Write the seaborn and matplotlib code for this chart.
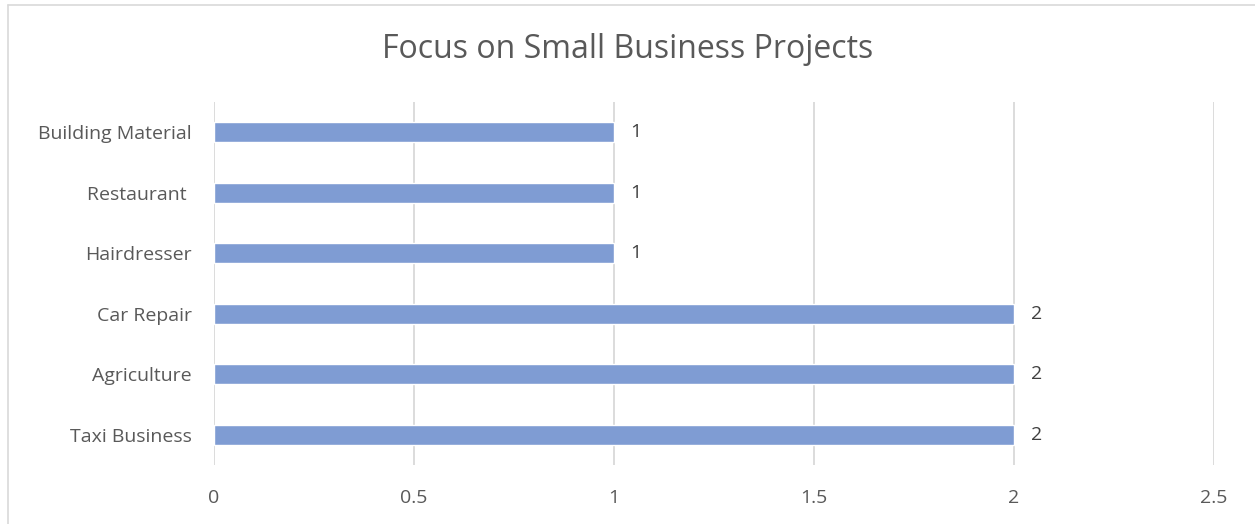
import matplotlib
matplotlib.use("Agg")
import matplotlib.pyplot as plt
import seaborn as sns
import pandas as pd
from matplotlib.lines import Line2D

categories = ["Building Material", "Restaurant ", "Hairdresser", "Car Repair", "Agriculture", "Taxi Business"]
values = [1, 1, 1, 2, 2, 2]
xticks = [0, 0.5, 1, 1.5, 2, 2.5]
xtick_labels = ["0", "0.5", "1", "1.5", "2", "2.5"]

sns.set_theme(style="white")
plt.rcParams['font.family'] = ['Open Sans', 'DejaVu Sans']

df = pd.DataFrame({"category": categories, "value": values})

fig = plt.figure(figsize=(12.55, 5.24), dpi=100)
ax = fig.add_axes([214/1255, 1-465/524, 1000/1255, 363/524])

sns.barplot(data=df, y="category", x="value", order=categories, color="#7F9CD3",
            saturation=1, width=0.33, ax=ax, zorder=3)

ax.set_xlim(0, 2.5)
ax.set_xticks(xticks)
ax.set_xticklabels(xtick_labels, fontsize=14, color="#595959")
ax.tick_params(axis="x", length=0, pad=17)
ax.tick_params(axis="y", length=0, pad=16, labelsize=14, labelcolor="#595959")
ax.set_xlabel("")
ax.set_ylabel("")
ax.grid(axis="x", color="#D9D9D9", linewidth=1.3, zorder=0)
ax.grid(axis="y", visible=False)
for s in ax.spines.values():
    s.set_visible(False)

for c in ax.containers:
    for t in ax.bar_label(c, labels=[str(v) for v in values], padding=12, fontsize=14, color="#404040"):
        t.set_va("center")

fig.text(0.5, 1-49/524, "Focus on Small Business Projects", ha="center", va="center",
         fontsize=23, color="#595959")

# outer chart frame (left and top visible)
fig.add_artist(Line2D([7.5/1255, 7.5/1255], [0, 1-4.5/524], transform=fig.transFigure, color="#D9D9D9", lw=1.2))
fig.add_artist(Line2D([7.5/1255, 1], [1-4.5/524, 1-4.5/524], transform=fig.transFigure, color="#D9D9D9", lw=1.2))

fig.savefig("out.png", dpi=100)
